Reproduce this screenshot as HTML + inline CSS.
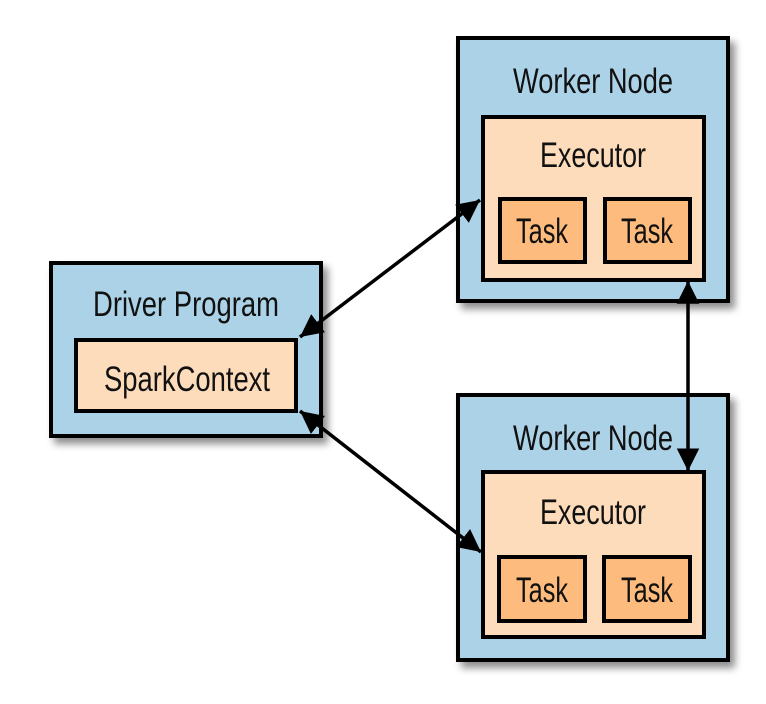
<!DOCTYPE html>
<html><head><style>
html,body{margin:0;padding:0;background:#fff;width:766px;height:704px;overflow:hidden}
text{font-family:"Liberation Sans",sans-serif;fill:#111}
</style></head><body>
<svg width="766" height="704" viewBox="0 0 766 704" xmlns="http://www.w3.org/2000/svg">
<defs>
<filter id="sh" x="-10%" y="-10%" width="130%" height="130%">
<feGaussianBlur in="SourceAlpha" stdDeviation="4"/>
<feOffset dx="5" dy="6"/>
<feComponentTransfer><feFuncA type="linear" slope="0.45"/></feComponentTransfer>
<feMerge><feMergeNode/><feMergeNode in="SourceGraphic"/></feMerge>
</filter>
<marker id="ah" viewBox="0 0 10 10" refX="10" refY="5" markerWidth="6.5" markerHeight="6.5" markerUnits="strokeWidth" orient="auto-start-reverse">
<path d="M0,0 L10,5 L0,10 z" fill="#000"/>
</marker>
</defs>
<g stroke="#000" stroke-width="4">
<rect x="51" y="263" width="270" height="173" fill="#acd2e8" filter="url(#sh)"/>
<rect x="76" y="340" width="220" height="71" fill="#fddcbc"/>
<rect x="458" y="38" width="270" height="263" fill="#acd2e8" filter="url(#sh)"/>
<rect x="483" y="117" width="221" height="163" fill="#fddcbc"/>
<rect x="500" y="199" width="85" height="63" fill="#fdbb7d"/>
<rect x="605" y="199" width="85" height="63" fill="#fdbb7d"/>
<rect x="458" y="395" width="270" height="265" fill="#acd2e8" filter="url(#sh)"/>
<rect x="483" y="472" width="221" height="165" fill="#fddcbc"/>
<rect x="499" y="557" width="86" height="64" fill="#fdbb7d"/>
<rect x="604" y="557" width="86" height="64" fill="#fdbb7d"/>
</g>
<g stroke="#000" stroke-width="3.5" fill="none">
<line x1="300" y1="337" x2="480" y2="200" marker-start="url(#ah)" marker-end="url(#ah)"/>
<line x1="300" y1="411" x2="481" y2="552" marker-start="url(#ah)" marker-end="url(#ah)"/>
<line x1="688" y1="281" x2="688" y2="471" marker-start="url(#ah)" marker-end="url(#ah)"/>
</g>
<g font-size="35" text-anchor="middle">
<text x="186" y="316" textLength="186" lengthAdjust="spacingAndGlyphs">Driver Program</text>
<text x="187" y="391" textLength="166" lengthAdjust="spacingAndGlyphs">SparkContext</text>
<text x="593" y="93" textLength="160" lengthAdjust="spacingAndGlyphs">Worker Node</text>
<text x="593" y="167" textLength="106" lengthAdjust="spacingAndGlyphs">Executor</text>
<text x="542" y="243" textLength="52" lengthAdjust="spacingAndGlyphs">Task</text>
<text x="647" y="243" textLength="52" lengthAdjust="spacingAndGlyphs">Task</text>
<text x="593" y="450" textLength="160" lengthAdjust="spacingAndGlyphs">Worker Node</text>
<text x="593" y="524" textLength="106" lengthAdjust="spacingAndGlyphs">Executor</text>
<text x="542" y="602" textLength="52" lengthAdjust="spacingAndGlyphs">Task</text>
<text x="647" y="602" textLength="52" lengthAdjust="spacingAndGlyphs">Task</text>
</g>
</svg>
</body></html>
